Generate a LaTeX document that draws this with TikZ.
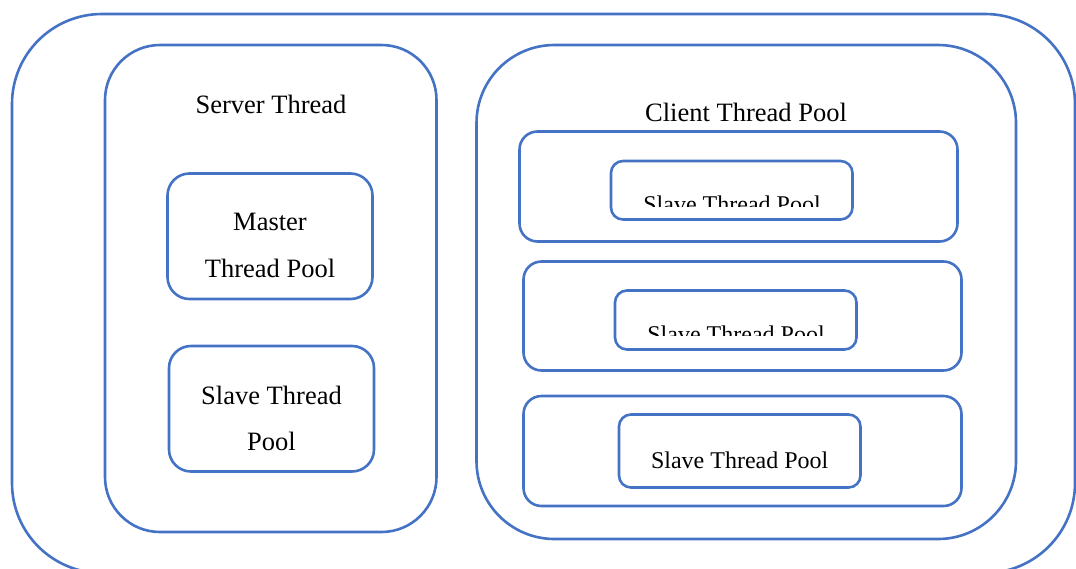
\documentclass[tikz,border=0pt]{standalone}
\usepackage{fontspec}
\setmainfont{Liberation Serif}
\usetikzlibrary{fit}
\definecolor{frameblue}{HTML}{4472C4}
\tikzset{
  frame/.style={draw=frameblue, line width=2.6pt, inner sep=0pt, outer sep=0pt},
  lbl/.style={inner sep=0pt, outer sep=0pt, anchor=base, text=black,
    font=\fontsize{26.5pt}{32pt}\selectfont},
  lblsmall/.style={lbl, font=\fontsize{24pt}{29pt}\selectfont}
}
\begin{document}
\begin{tikzpicture}[x=1pt, y=-1pt]
  \useasboundingbox (0,0) rectangle (1076,568);
  \clip (0,0) rectangle (1076,568);

  % outermost frame (runs past the lower edge)
  \node[frame, rounded corners=90pt, fit={(12,14) (1075,573)}] (outer) {};

  % server side
  \node[frame, rounded corners=55pt, fit={(105,45) (436.5,532)}] (server) {};
  \node[lbl] (serverlbl) at (271,113.3) {Server Thread};

  \node[frame, rounded corners=22pt, fit={(167.5,173.5) (372.5,299)}] (master) {};
  \node[lbl] (masterlbl1) at (270,230.7) {Master};
  \node[lbl] (masterlbl2) at (270,277.7) {Thread Pool};

  \node[frame, rounded corners=22pt, fit={(169,346) (374,471.5)}] (slaveL) {};
  \node[lbl] (slaveLlbl1) at (271.5,404) {Slave Thread};
  \node[lbl] (slaveLlbl2) at (271.5,450) {Pool};

  % client side
  \node[frame, rounded corners=78pt, fit={(476.5,45) (1016,539)}] (client) {};
  \node[lbl] (clientlbl) at (746,121.7) {Client Thread Pool};

  \node[frame, rounded corners=18pt, fit={(519.5,131.5) (957.5,241.5)}] (rowA) {};
  \node[frame, rounded corners=12pt, fit={(611,161) (852.5,219.5)}] (poolA) {};
  \begin{scope}
    \clip (poolA.north west) rectangle ([yshift=13.5pt]poolA.south east);
    \node[lblsmall] (poolAlbl) at (732,212.9) {Slave Thread Pool};
  \end{scope}

  \node[frame, rounded corners=18pt, fit={(523.5,261.5) (961.5,370.5)}] (rowB) {};
  \node[frame, rounded corners=12pt, fit={(615,290.5) (856.5,349.5)}] (poolB) {};
  \begin{scope}
    \clip (poolB.north west) rectangle ([yshift=14pt]poolB.south east);
    \node[lblsmall] (poolBlbl) at (736,342) {Slave Thread Pool};
  \end{scope}

  \node[frame, rounded corners=18pt, fit={(523.5,396) (961.5,506)}] (rowC) {};
  \node[frame, rounded corners=12pt, fit={(619,414.5) (860.5,487.5)}] (poolC) {};
  \node[lblsmall] (poolClbl) at (739.7,468.3) {Slave Thread Pool};
\end{tikzpicture}
\end{document}
